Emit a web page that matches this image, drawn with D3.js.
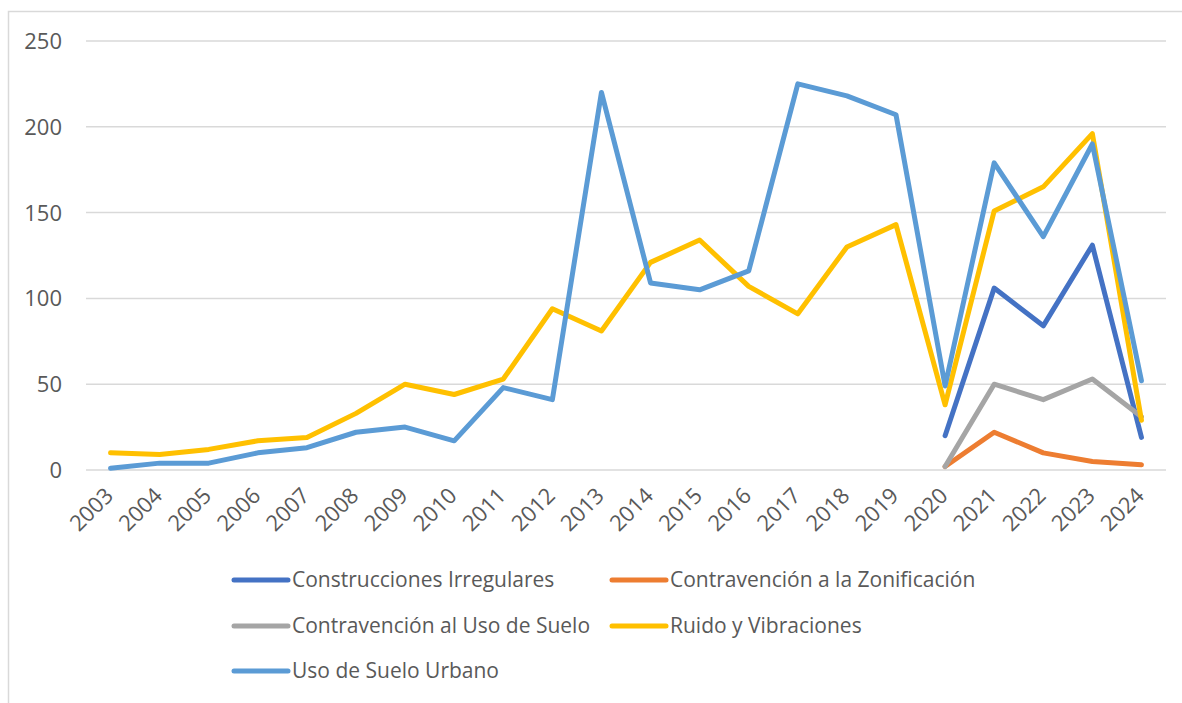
<html>
<head>
<meta charset="utf-8">
<style>
body { margin: 0; background: #ffffff; }
text { font-family: "Open Sans", sans-serif; fill: #595959; }
</style>
</head>
<body>
<div id="chart"></div>
<script src="https://cdn.jsdelivr.net/npm/d3@7"></script>
<script>
// data
var years = ["2003", "2004", "2005", "2006", "2007", "2008", "2009", "2010", "2011", "2012", "2013",
             "2014", "2015", "2016", "2017", "2018", "2019", "2020", "2021", "2022", "2023", "2024"];
var seriesNames = ["Construcciones Irregulares", "Contravención a la Zonificación",
                   "Contravención al Uso de Suelo", "Ruido y Vibraciones", "Uso de Suelo Urbano"];
var seriesColors = ["#4472C4", "#ED7D31", "#A5A5A5", "#FFC000", "#5B9BD5"];

// null = no value for that year
var construcciones = [null, null, null, null, null, null, null, null, null, null, null,
                      null, null, null, null, null, null, 20, 106, 84, 131, 19];
var zonificacion = [null, null, null, null, null, null, null, null, null, null, null,
                    null, null, null, null, null, null, 2, 22, 10, 5, 3];
var usoContravencion = [null, null, null, null, null, null, null, null, null, null, null,
                        null, null, null, null, null, null, 2, 50, 41, 53, 31];
var ruido = [10, 9, 12, 17, 19, 33, 50, 44, 53, 94, 81, 121, 134, 107, 91, 130, 143, 38, 151, 165, 196, 29];
var usoUrbano = [1, 4, 4, 10, 13, 22, 25, 17, 48, 41, 220, 109, 105, 116, 225, 218, 207, 49, 179, 136, 190, 52];

var yTicks = [0, 50, 100, 150, 200, 250];

var allSeries = [construcciones, zonificacion, usoContravencion, ruido, usoUrbano];

var W = 1182, H = 703;
var svg = d3.select("#chart").append("svg").attr("width", W).attr("height", H);

// chart frame (right and bottom edges lie outside the picture)
svg.append("rect")
    .attr("x", 8.5).attr("y", 11.5)
    .attr("width", W + 20).attr("height", H + 20)
    .attr("fill", "none").attr("stroke", "#D9D9D9").attr("stroke-width", 1.5);

var x = d3.scalePoint().domain(years).range([86, 1166]).padding(0.5);
var y = d3.scaleLinear().domain([0, 250]).range([470, 41]);

// gridlines
svg.append("g").selectAll("line")
    .data(yTicks).enter().append("line")
    .attr("x1", 86).attr("x2", 1166)
    .attr("y1", function (d) { return y(d); })
    .attr("y2", function (d) { return y(d); })
    .attr("stroke", "#D9D9D9").attr("stroke-width", 1.5);

// y labels
svg.append("g").selectAll("text")
    .data(yTicks).enter().append("text")
    .attr("x", 62)
    .attr("y", function (d) { return y(d); })
    .attr("dy", "0.36em")
    .style("text-anchor", "end")
    .style("font-size", "22px")
    .text(function (d) { return d; });

// x labels, rotated
svg.append("g").selectAll("text")
    .data(years).enter().append("text")
    .attr("transform", function (d) { return "translate(" + (x(d) + 4) + ",497) rotate(-45)"; })
    .style("text-anchor", "end")
    .style("font-size", "22px")
    .text(function (d) { return d; });

// lines
var line = d3.line()
    .defined(function (d) { return d != null; })
    .x(function (d, i) { return x(years[i]); })
    .y(function (d) { return y(d); });

svg.append("g").selectAll("path")
    .data(allSeries).enter().append("path")
    .attr("d", line)
    .attr("fill", "none")
    .attr("stroke", function (d, i) { return seriesColors[i]; })
    .attr("stroke-width", 5)
    .attr("stroke-linejoin", "round")
    .attr("stroke-linecap", "round");

// legend, two columns
var legendPos = [[234, 580], [612, 580], [234, 626], [612, 626], [234, 671]];
var lg = svg.append("g").selectAll("g")
    .data(seriesNames).enter().append("g")
    .attr("transform", function (d, i) { return "translate(" + legendPos[i][0] + "," + legendPos[i][1] + ")"; });

lg.append("line")
    .attr("x1", 0).attr("x2", 54).attr("y1", 0).attr("y2", 0)
    .attr("stroke", function (d, i) { return seriesColors[i]; })
    .attr("stroke-width", 5)
    .attr("stroke-linecap", "round");

lg.append("text")
    .attr("x", 58).attr("y", 0).attr("dy", "0.35em")
    .style("font-size", "21px")
    .text(function (d) { return d; });
</script>
</body>
</html>
